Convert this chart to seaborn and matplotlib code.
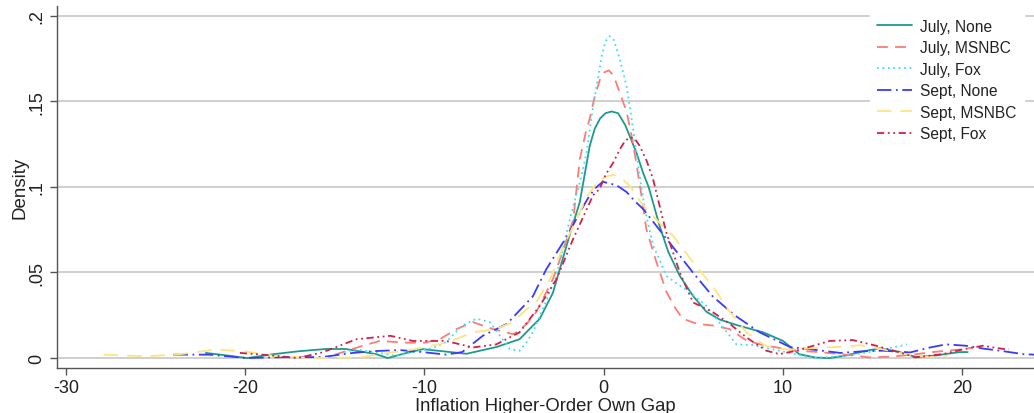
import numpy as np
import pandas as pd
import matplotlib
matplotlib.use('Agg')
import matplotlib.pyplot as plt
import seaborn as sns

# ### curves (x = gap, y = density)
july_none_x = [-22.2, -21, -19.9, -18.4, -17, -15.5, -14.4, -12.7, -12.05, -11, -10.1, -9, -7.65, -6.9, -6.0, -4.7,
               -3.57, -2.84, -2.45, -1.9, -1.34, -1.0, -0.78, -0.5, -0.2, 0.1, 0.43, 0.8, 1.2, 1.82, 2.2, 2.5, 3.12,
               3.6, 4.24, 5.0, 5.73, 6.47, 7.5, 8.9, 10.0, 10.9, 11.8, 12.6, 13.5, 14.3, 15.4, 16.5, 17.4, 18.5,
               19.85, 20.3]
july_none_y = [0.003, 0.0015, 0.0, 0.0023, 0.004, 0.0053, 0.0053, 0.0023, 0.0, 0.003, 0.0052, 0.004, 0.0025, 0.0043,
               0.0064, 0.011, 0.023, 0.038, 0.052, 0.072, 0.091, 0.111, 0.124, 0.134, 0.140, 0.143, 0.144, 0.143,
               0.136, 0.12, 0.108, 0.1, 0.077, 0.062, 0.048, 0.036, 0.027, 0.0225, 0.019, 0.015, 0.010, 0.0023,
               0.0003, 0.0, 0.0015, 0.0035, 0.0058, 0.0035, 0.0006, 0.0015, 0.0035, 0.0035]

july_msnbc_x = [-15, -13.5, -12.5, -11, -10, -9.15, -8.2, -7.3, -6.2, -5.07, -4.87, -4.3, -3.76, -2.84, -2.3, -1.7,
                -1.34, -1.0, -0.78, -0.5, -0.2, 0.05, 0.28, 0.55, 0.89, 1.27, 1.55, 1.8, 2.1, 2.38, 2.94, 3.5, 4.0,
                4.4, 5.2, 6.08, 7.0, 8.0, 9.07, 10.75, 12.05, 13.2, 14.1, 14.8, 16, 17.2, 18.35, 19.85, 20.5]
july_msnbc_y = [0.002, 0.007, 0.010, 0.009, 0.009, 0.011, 0.017, 0.021, 0.017, 0.014, 0.015, 0.02, 0.027, 0.046, 0.062,
                0.081, 0.116, 0.132, 0.14, 0.153, 0.163, 0.167, 0.168, 0.165, 0.155, 0.144, 0.13, 0.115, 0.095, 0.075,
                0.056, 0.0385, 0.029, 0.023, 0.020, 0.019, 0.017, 0.010, 0.0072, 0.0043, 0.0035, 0.0023, 0.0013,
                0.0004, 0.0008, 0.002, 0.0035, 0.005, 0.006]

july_fox_x = [-14.5, -13.8, -12.5, -11.6, -10.6, -9.5, -8.8, -7.9, -7.1, -6.36, -6.0, -5.24, -4.7, -4.3, -3.96, -3.4,
              -2.64, -1.8, -1.3, -0.96, -0.7, -0.4, -0.1, 0.1, 0.33, 0.55, 0.8, 1.05, 1.27, 1.55, 1.82, 2.05, 2.29,
              2.75, 3.5, 4.0, 4.6, 5.73, 6.5, 7.4, 8.3, 9.8, 11.7, 13.5, 14.8, 15.5, 16.5, 16.9]
july_fox_y = [0.0035, 0.005, 0.003, 0.0013, 0.0035, 0.006, 0.0093, 0.019, 0.023, 0.021, 0.016, 0.0053, 0.0043, 0.0093,
              0.015, 0.0286, 0.048, 0.085, 0.104, 0.12, 0.14, 0.159, 0.177, 0.185, 0.188, 0.186, 0.178, 0.168, 0.159,
              0.14, 0.12, 0.103, 0.087, 0.066, 0.048, 0.044, 0.040, 0.0305, 0.02, 0.008, 0.0076, 0.0043, 0.0, 0.0013,
              0.0035, 0.005, 0.007, 0.008]

sept_none_x = [-24, -22, -19.9, -18, -15.7, -14, -12.9, -11.4, -10.1, -8.8, -7.9, -6.75, -5.4, -3.96, -3.2, -2.0, -1.34,
               -0.9, -0.5, -0.05, 0.3, 0.7, 1.27, 1.7, 2.2, 3.1, 4.0, 4.97, 6.08, 7.3, 8.7, 10.4, 11.7, 13.2, 14.5,
               15.6, 17.1, 18.2, 19.1, 20.2, 21.2, 22.1, 23.4, 24]
sept_none_y = [0.002, 0.002, 0.0, 0.0005, 0.0006, 0.003, 0.004, 0.0047, 0.0035, 0.002, 0.0035, 0.013, 0.02, 0.036,
               0.052, 0.072, 0.085, 0.093, 0.099, 0.103, 0.102, 0.101, 0.097, 0.092, 0.087, 0.075, 0.063, 0.050, 0.036,
               0.025, 0.015, 0.0064, 0.0049, 0.003, 0.004, 0.0043, 0.0033, 0.0062, 0.008, 0.0072, 0.0055, 0.0043,
               0.0023, 0.002]

sept_msnbc_x = [-27.9, -25.5, -23.6, -21.6, -19.9, -18.4, -16.2, -13.6, -12.5, -10.65, -8.77, -7.3, -6.0, -5.07, -4.3,
                -3.76, -3.0, -2.3, -1.34, -0.9, -0.4, 0.1, 0.56, 1.0, 1.5, 2.0, 2.38, 3.2, 3.86, 4.97, 6.08, 7.03,
                7.96, 9.07, 10.4, 11.7, 13.5, 14.3, 15.4, 16.5, 17.4, 18.4, 19.2]
sept_msnbc_y = [0.002, 0.001, 0.0023, 0.005, 0.0037, 0.0013, 0.0, 0.0004, 0.0023, 0.005, 0.009, 0.015, 0.017, 0.021,
                0.0286, 0.0327, 0.046, 0.064, 0.085, 0.095, 0.102, 0.106, 0.107, 0.105, 0.1, 0.092, 0.087, 0.078,
                0.0715, 0.056, 0.042, 0.027, 0.015, 0.0068, 0.0049, 0.0058, 0.0068, 0.0075, 0.0055, 0.003, 0.0013,
                0.0006, 0.0015]

sept_fox_x = [-20.3, -19.4, -18, -17.1, -15.7, -13.8, -11.9, -10.65, -8.8, -7.3, -6.0, -4.7, -3.57, -2.64, -1.71, -0.6,
              -0.22, 0.1, 0.52, 0.9, 1.2, 1.5, 1.8, 2.0, 2.4, 2.75, 3.3, 3.5, 4.24, 4.98, 6.1, 7.03, 7.96, 9.07, 9.8,
              10.75, 12.6, 13.9, 15.2, 16.5, 17.4, 18.9, 20, 21.15, 22.3, 22.6]
sept_fox_y = [0.003, 0.0023, 0.001, 0.0, 0.0033, 0.011, 0.013, 0.010, 0.010, 0.0062, 0.008, 0.015, 0.0305, 0.046,
              0.0695, 0.095, 0.099, 0.107, 0.114, 0.122, 0.127, 0.129, 0.127, 0.124, 0.115, 0.1045, 0.081, 0.073,
              0.050, 0.0325, 0.0267, 0.020, 0.012, 0.0043, 0.0023, 0.0043, 0.010, 0.0105, 0.0072, 0.0033, 0.0004,
              0.0023, 0.005, 0.0072, 0.0053, 0.005]

labels = ['July, None', 'July, MSNBC', 'July, Fox', 'Sept, None', 'Sept, MSNBC', 'Sept, Fox']
xs = [july_none_x, july_msnbc_x, july_fox_x, sept_none_x, sept_msnbc_x, sept_fox_x]
ys = [july_none_y, july_msnbc_y, july_fox_y, sept_none_y, sept_msnbc_y, sept_fox_y]

colors = ['#1e9a8c', '#ff7b73', '#3fdcff', '#3a3aff', '#ffe47e', '#d3204a']
styles = ['-', (0, (6, 4)), (0, (1, 2)), (0, (8, 2.5, 1, 2.5)), (0, (8, 5)), (0, (4, 2, 1, 2, 1, 2))]

ticks_x = [-30, -20, -10, 0, 10, 20]
ticks_y = [0, 0.05, 0.1, 0.15, 0.2]
ticks_y_lab = ['0', '.05', '.1', '.15', '.2']

sns.set_style('white')
plt.rcParams['font.family'] = ['Liberation Sans', 'DejaVu Sans']

fig = plt.figure(figsize=(10.34, 4.14), dpi=100)
ax = fig.add_axes([57 / 1034, 45 / 414, 1 - 57 / 1034, (369 - 7) / 414])

for lab, x, y, c, s in zip(labels, xs, ys, colors, styles):
    sns.lineplot(x=x, y=y, ax=ax, color=c, linestyle=s, lw=1.3, label=lab,
                 sort=False, estimator=None)

ax.set_xlim(-30.5, 24)
ax.set_ylim(-0.0058, 0.2056)
ax.set_xticks(ticks_x)
ax.set_xticklabels([str(t) for t in ticks_x])
ax.set_yticks(ticks_y)
ax.set_yticklabels(ticks_y_lab, rotation=90, va='center')
ax.yaxis.grid(True, color='#cfcfcf', lw=1.4)
ax.xaxis.grid(False)
ax.set_axisbelow(True)
for side in ['top', 'right']:
    ax.spines[side].set_visible(False)
for side in ['left', 'bottom']:
    ax.spines[side].set_color('#555555')
    ax.spines[side].set_linewidth(1.0)
ax.tick_params(axis='both', direction='out', length=5, width=1, color='#555555',
               labelsize=13, labelcolor='#222222', bottom=True, left=True)
ax.tick_params(axis='x', pad=3)

ax.set_xlabel('Inflation Higher-Order Own Gap', fontsize=13.3, color='#222222')
ax.xaxis.set_label_coords(0.5, -0.08)
ax.set_ylabel('Density', fontsize=13.5, color='#222222')
ax.yaxis.set_label_coords(-0.029, 0.5)

leg = ax.legend(loc='upper right', bbox_to_anchor=(1032 / 1034, 1 - 4 / 414), bbox_transform=fig.transFigure,
                frameon=True, fancybox=False, fontsize=11.2, handlelength=2.25, labelspacing=0.42,
                borderpad=0.5, handletextpad=0.5)
leg.get_frame().set_edgecolor('white')
leg.get_frame().set_facecolor('white')
leg.get_frame().set_alpha(1)
for t in leg.get_texts():
    t.set_color('#222222')

fig.savefig('out.png', dpi=100)
